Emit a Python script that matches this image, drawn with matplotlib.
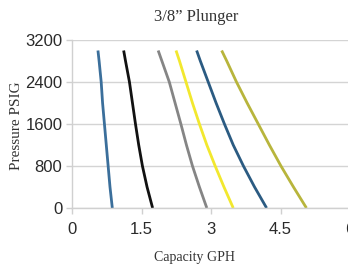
import matplotlib
matplotlib.use("Agg")
import matplotlib.pyplot as plt

# pressure levels (PSIG) and capacity (GPH) per curve
pressure = [0, 400, 800, 1200, 1600, 2000, 2400, 2800, 3000]
cap_1 = [0.87, 0.82, 0.78, 0.74, 0.70, 0.66, 0.63, 0.585, 0.56]
cap_2 = [1.74, 1.62, 1.52, 1.44, 1.37, 1.305, 1.24, 1.155, 1.115]
cap_3 = [2.91, 2.75, 2.60, 2.47, 2.35, 2.225, 2.10, 1.94, 1.86]
cap_4 = [3.48, 3.28, 3.09, 2.91, 2.75, 2.60, 2.46, 2.32, 2.245]
cap_5 = [4.20, 3.94, 3.70, 3.48, 3.29, 3.11, 2.94, 2.77, 2.69]
cap_6 = [5.06, 4.78, 4.51, 4.26, 4.02, 3.78, 3.55, 3.34, 3.23]

series = [cap_1, cap_2, cap_3, cap_4, cap_5, cap_6]
colors = ["#3b6f9b", "#111111", "#858585", "#f2e82e", "#2b5b82", "#b8b53c"]

x_ticks = [0, 1.5, 3, 4.5, 6]
x_tick_labels = ["0", "1.5", "3", "4.5", "6"]
y_ticks = [0, 800, 1600, 2400, 3200]

fig = plt.figure(figsize=(3.48, 2.69), dpi=100)
ax = fig.add_axes([72 / 348, 61 / 269, 278 / 348, 168 / 269])

for cap, c in zip(series, colors):
    ax.plot(cap, pressure, color=c, linewidth=2.0, solid_capstyle="butt",
            solid_joinstyle="round")

ax.set_xlim(0, 6)
ax.set_ylim(0, 3200)
ax.set_xticks(x_ticks)
ax.set_xticklabels(x_tick_labels)
ax.set_yticks(y_ticks)

ax.grid(axis="y", color="#d4d4d4", linewidth=1.0)
ax.set_axisbelow(True)
for s in ["top", "right"]:
    ax.spines[s].set_visible(False)
for s in ["left", "bottom"]:
    ax.spines[s].set_color("#d0d0d0")
    ax.spines[s].set_linewidth(1.0)
ax.tick_params(colors="#d0d0d0", length=4, width=1.0, labelcolor="#2a2a2a",
               labelsize=12)
for lab in ax.get_xticklabels() + ax.get_yticklabels():
    lab.set_family("Liberation Sans")
ax.tick_params(axis="x", pad=6)
ax.tick_params(axis="y", pad=3)

fig.text(196 / 348, 1 - 17 / 269, "3/8\u201d Plunger", family="Liberation Serif",
         fontsize=12, color="#333333", ha="center", va="center")
ax.set_xlabel("Capacity GPH", family="Liberation Serif", fontsize=10,
              color="#333333")
ax.xaxis.set_label_coords((194 - 72) / 278, -(258 - 208) / 168)
ax.set_ylabel("Pressure PSIG", family="Liberation Serif", fontsize=11,
              color="#333333")
ax.yaxis.set_label_coords(-(72 - 17) / 278, 0.49)
ax.xaxis.label.set_va("center")
ax.yaxis.label.set_va("center")

fig.savefig("out.png", dpi=100)
